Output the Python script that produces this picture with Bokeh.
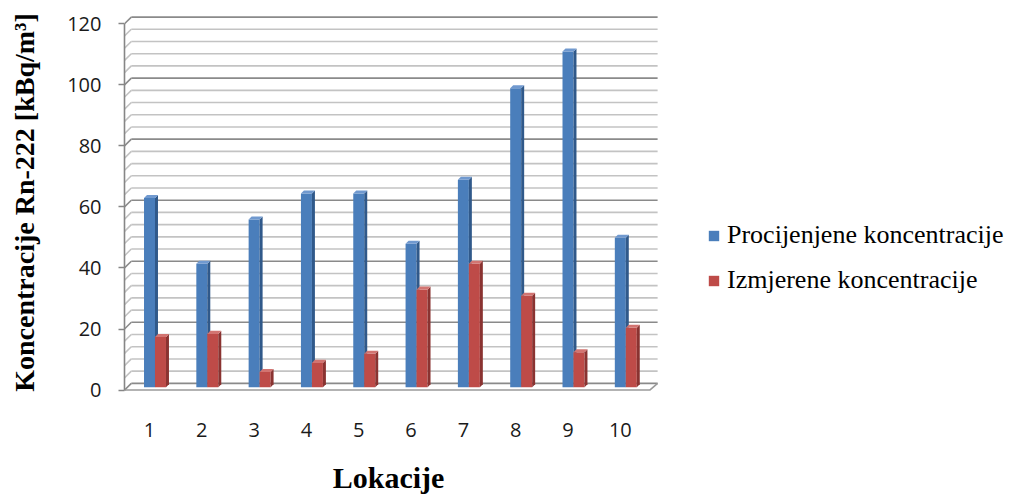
from bokeh.plotting import figure
from bokeh.models import Range1d, FixedTicker, Legend, LegendItem, LinearAxis
from bokeh.embed import file_html
from bokeh.resources import INLINE

# ---------------- data ----------------
CATEGORIES = [1, 2, 3, 4, 5, 6, 7, 8, 9, 10]
PROCIJENJENE = [62, 40.5, 55, 63.5, 63.5, 47, 68, 98, 110, 49]
IZMJERENE = [16.5, 17.5, 5, 8, 11, 32, 40.5, 30, 11.5, 19.5]
SERIES_NAMES = ["Procijenjene koncentracije", "Izmjerene koncentracije"]
Y_TICKS = [0, 20, 40, 60, 80, 100, 120]
X_LABEL = "Lokacije"
Y_LABEL = "Koncentracije Rn-222 [kBq/m³]"

# ---------------- style ----------------
X0, X1 = 0.522, 17.65          # frame also covers the legend area
Y0, Y1 = -0.8, 123.7
PLOT_RIGHT = 10.713            # right edge of the 3D back wall
BAR_W = 0.21
DX, DY = 0.057, 1.0            # 3D depth of a bar
BASE = 0.9                     # bars stand a little behind the front edge
WALL_DX, WALL_DY = 0.13, 2.2   # depth of the back wall
GRID_STEP = 4
BACK_LEFT = X0 + WALL_DX
X_TITLE_POS = 5.57

BLUE = ("#4A7EBB", "#30598A", "#7099CF")
RED = ("#BE4B48", "#8A3331", "#D27471")

p = figure(width=1025, height=497, output_backend="svg", toolbar_location=None,
           x_range=Range1d(X0, X1), y_range=Range1d(Y0, Y1),
           min_border_left=124, min_border_right=5,
           min_border_top=12, min_border_bottom=105)
p.outline_line_color = None
p.grid.visible = False
p.background_fill_color = "white"
p.border_fill_color = "white"

# ---------------- back wall grid ----------------
y_max = Y_TICKS[-1]
levels = list(range(0, y_max + 1, GRID_STEP))
for major in (False, True):
    lv = [v for v in levels if (v % 20 == 0) == major]
    col = "#8a8a8a" if major else "#c3c3c3"
    p.segment(x0=[BACK_LEFT] * len(lv), y0=[v + WALL_DY for v in lv],
              x1=[PLOT_RIGHT] * len(lv), y1=[v + WALL_DY for v in lv],
              line_color=col, line_width=1.6)
    p.segment(x0=[X0] * len(lv), y0=lv,
              x1=[BACK_LEFT] * len(lv), y1=[v + WALL_DY for v in lv],
              line_color=col, line_width=1.6)

# floor
p.line(x=[X0, PLOT_RIGHT - WALL_DX - 0.02, PLOT_RIGHT],
       y=[0, 0, WALL_DY], line_color="#9a9a9a", line_width=1.6)


# ---------------- 3D bars ----------------
def bars(values, offset, colors):
    xs = [c + offset for c in CATEGORIES]
    tops = [v + BASE for v in values]
    r = p.vbar(x=xs, width=BAR_W, bottom=BASE, top=tops,
               fill_color=colors[0], line_color=None)
    side_x, side_y, top_x, top_y = [], [], [], []
    for x, t in zip(xs, tops):
        xl, xr = x - BAR_W / 2, x + BAR_W / 2
        side_x.append([xr, xr + DX, xr + DX, xr])
        side_y.append([BASE, BASE + DY, t + DY, t])
        top_x.append([xl, xr, xr + DX, xl + DX])
        top_y.append([t, t, t + DY, t + DY])
    p.patches(xs=side_x, ys=side_y, fill_color=colors[1], line_color=None)
    p.patches(xs=top_x, ys=top_y, fill_color=colors[2], line_color=None)
    return r


rb = bars(PROCIJENJENE, 0.0, BLUE)
rr = bars(IZMJERENE, BAR_W, RED)

# ---------------- axes ----------------
yax = p.yaxis[0]
yax.ticker = FixedTicker(ticks=Y_TICKS)
yax.bounds = (0, y_max)
yax.axis_line_color = "#868686"
yax.axis_line_width = 1.6
yax.major_tick_line_color = "#868686"
yax.major_tick_line_width = 1.6
yax.major_tick_out = 6
yax.major_tick_in = 0
yax.minor_tick_line_color = None
yax.major_label_standoff = 17
yax.major_label_text_font = "Open Sans"
yax.major_label_text_font_size = "20px"
yax.major_label_text_color = "#1a1a1a"
yax.axis_label = Y_LABEL
yax.axis_label_text_font = "Liberation Serif"
yax.axis_label_text_font_style = "bold"
yax.axis_label_text_font_size = "28px"
yax.axis_label_text_color = "black"
yax.axis_label_standoff = 24

xax = p.xaxis[0]
xax.ticker = FixedTicker(ticks=CATEGORIES)
xax.axis_line_color = None
xax.major_tick_line_color = None
xax.minor_tick_line_color = None
xax.major_label_standoff = 24
xax.major_label_text_font = "Open Sans"
xax.major_label_text_font_size = "20px"
xax.major_label_text_color = "#1a1a1a"

# axis title drawn as the single label of a second, line-less axis below
tax = LinearAxis(ticker=FixedTicker(ticks=[X_TITLE_POS]),
                 major_label_overrides={X_TITLE_POS: X_LABEL},
                 axis_line_color=None, major_tick_line_color=None,
                 minor_tick_line_color=None, major_label_standoff=15,
                 major_label_text_font="Liberation Serif",
                 major_label_text_font_style="bold",
                 major_label_text_font_size="30px",
                 major_label_text_color="black")
p.add_layout(tax, "below")

# ---------------- legend ----------------
legend = Legend(items=[LegendItem(label=SERIES_NAMES[0], renderers=[rb]),
                       LegendItem(label=SERIES_NAMES[1], renderers=[rr])],
                location=(583, 97), orientation="vertical",
                padding=0, margin=0, spacing=15,
                glyph_width=13, glyph_height=13, label_height=30,
                label_standoff=7, label_text_font="Liberation Serif",
                label_text_font_size="26px", label_text_color="black",
                border_line_color=None, background_fill_alpha=0)
p.add_layout(legend)

open("out.html", "w").write(file_html(p, INLINE))
